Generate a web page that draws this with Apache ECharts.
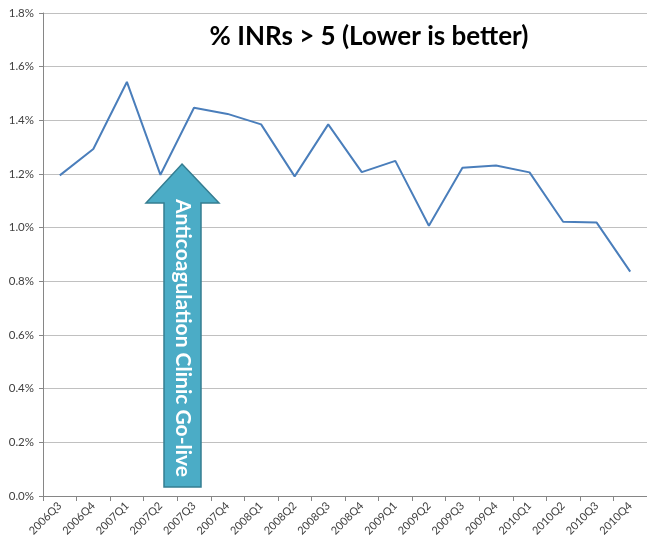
<!DOCTYPE html>
<html>
<head>
<meta charset="utf-8">
<script src="https://cdn.jsdelivr.net/npm/echarts@6/dist/echarts.min.js"></script>
<style>
  html, body { margin: 0; padding: 0; background: #fff; }
  #chart { width: 647px; height: 544px; }
</style>
</head>
<body>
<div id="chart"></div>
<script>
// quarters on the x axis
const quarters = ['2006Q3', '2006Q4', '2007Q1', '2007Q2', '2007Q3', '2007Q4',
  '2008Q1', '2008Q2', '2008Q3', '2008Q4', '2009Q1', '2009Q2',
  '2009Q3', '2009Q4', '2010Q1', '2010Q2', '2010Q3', '2010Q4'];
// % of INRs > 5 (in percent)
const inrPct = [1.195, 1.293, 1.543, 1.197, 1.447, 1.424,
  1.385, 1.191, 1.385, 1.207, 1.249, 1.007,
  1.223, 1.232, 1.206, 1.022, 1.019, 0.836];
const titleText = '% INRs > 5 (Lower is better)';
const arrowText = 'Anticoagulation Clinic Go-live';

const chart = echarts.init(document.getElementById('chart'));

// arrow shape (annotation only)
const arrowPts = [
  [182, 164], [219, 203], [201, 203], [201, 487],
  [164, 487], [164, 203], [146, 203]
];

chart.setOption({
  animation: false,
  textStyle: { fontFamily: 'Lato' },
  title: {
    text: titleText,
    left: 364,
    top: 19,
    textAlign: 'center',
    textStyle: { fontFamily: 'Lato', fontWeight: 'bold', fontSize: 26, color: '#000' }
  },
  grid: { left: 43, right: 0, top: 13, bottom: 48 },
  xAxis: {
    type: 'category',
    data: quarters,
    boundaryGap: true,
    axisLine: { lineStyle: { color: '#868686' } },
    axisTick: { show: true, length: 5, lineStyle: { color: '#868686' } },
    axisLabel: { rotate: 45, fontSize: 11, color: '#404040', margin: 8, interval: 0 }
  },
  yAxis: {
    type: 'value',
    min: 0,
    max: 1.8,
    interval: 0.2,
    axisLine: { show: true, lineStyle: { color: '#868686' } },
    axisTick: { show: true, length: 4, lineStyle: { color: '#868686' } },
    axisLabel: {
      fontSize: 11.5, color: '#404040', margin: 9,
      formatter: v => v.toFixed(1) + '%'
    },
    splitLine: { lineStyle: { color: '#c0c0c0', width: 1 } }
  },
  series: [{
    type: 'line',
    data: inrPct,
    symbol: 'none',
    lineStyle: { color: '#4a7ebb', width: 2 }
  }],
  graphic: [
    {
      type: 'polygon',
      shape: { points: arrowPts },
      style: { fill: '#4bacc6', stroke: '#357d91', lineWidth: 1.5 },
      z: 100
    },
    {
      type: 'text',
      x: 183,
      y: 338,
      rotation: -Math.PI / 2,
      style: {
        text: arrowText,
        fill: '#fff',
        font: 'bold 21px Lato',
        align: 'center',
        verticalAlign: 'middle'
      },
      z: 101
    }
  ]
});
</script>
</body>
</html>
